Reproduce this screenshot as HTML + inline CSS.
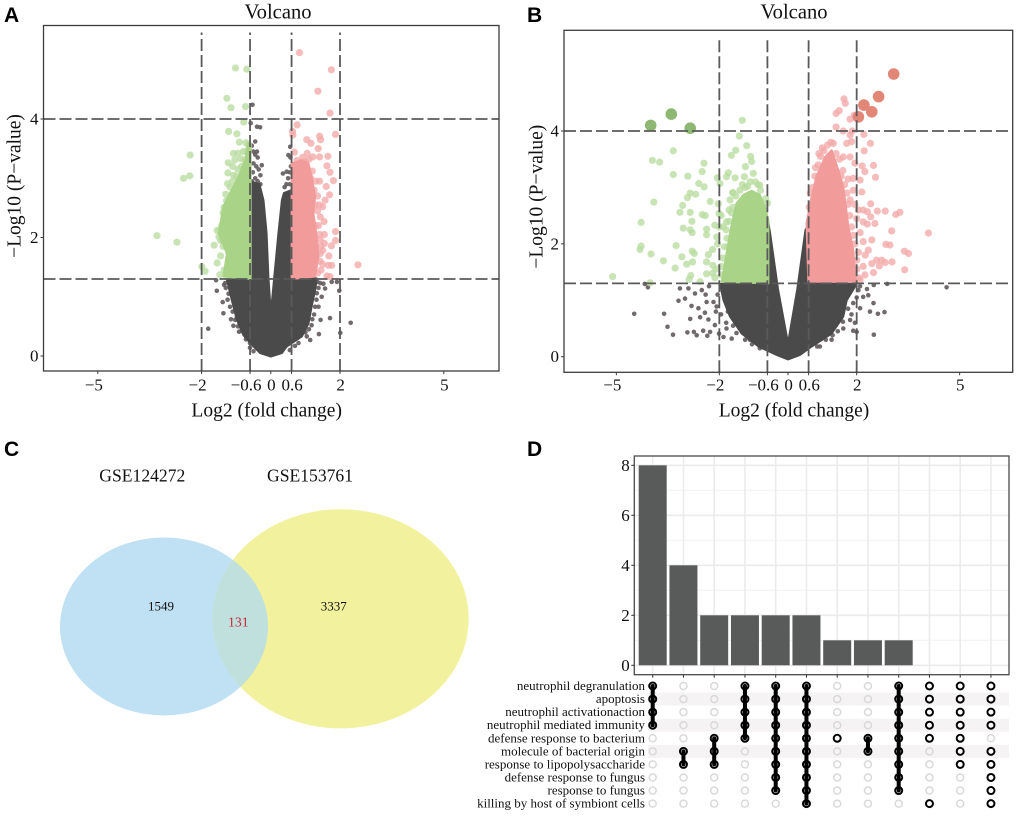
<!DOCTYPE html>
<html lang="en">
<head>
<meta charset="utf-8">
<title>Volcano, Venn and UpSet figure</title>
<style>
html,body{margin:0;padding:0;background:#fff}
svg{display:block}
text{font-family:"Liberation Serif",serif;fill:#111}
.panel-letter{font-family:"Liberation Sans",sans-serif;font-weight:bold;font-size:21px;fill:#000}
</style>
</head>
<body>
<svg id="fig" width="1020" height="818" viewBox="0 0 1020 818" xmlns="http://www.w3.org/2000/svg">
  <rect width="1020" height="818" fill="#fff"/>
  <text class="panel-letter" x="4" y="22">A</text>
  <text class="panel-letter" x="527" y="22">B</text>
  <text class="panel-letter" x="4" y="456">C</text>
  <text class="panel-letter" x="527" y="456">D</text>

  <g id="panelA"></g>
  <g id="panelB"></g>

  <g id="panelC">
    <text x="142.3" y="481.7" font-size="17.6" text-anchor="middle">GSE124272</text>
    <text x="310" y="481.7" font-size="17.6" text-anchor="middle">GSE153761</text>
    <ellipse cx="164" cy="626.5" rx="104" ry="89" fill="#bfe1f3"/>
    <ellipse cx="340.7" cy="618.8" rx="128" ry="109.5" fill="#f2f29e"/>
    <clipPath id="vennClip"><ellipse cx="164" cy="626.5" rx="104" ry="89"/></clipPath>
    <ellipse cx="340.7" cy="618.8" rx="128" ry="109.5" fill="#bfe0dc" clip-path="url(#vennClip)"/>
    <text x="161" y="610.3" font-size="13" text-anchor="middle">1549</text>
    <text x="238.3" y="626.7" font-size="13.8" text-anchor="middle" style="fill:#c8283c">131</text>
    <text x="333.7" y="610.3" font-size="13" text-anchor="middle">3337</text>
  </g>

  <g id="panelD"></g>
</svg>

<script>
/* ---------- shared volcano axes ---------- */
var xTickValues = [-5, -2, -0.6, 0, 0.6, 2, 5];
var yTickValues = [0, 2, 4];
var xThresholds = [-2, -0.6, 0.6, 2];
var yThresholds = [1.3, 4];

/* ---------- panel A data (log2 FC, -log10 P) ---------- */
var aGrayCloud = [[-0.6,2.95],[-0.33,2.9],[-0.21,2.63],[-0.12,2.07],[-0.07,1.34],[0,0.72],[0.1,1.34],[0.22,2.07],[0.32,2.63],[0.38,2.75],[0.6,2.8],[0.6,1.3],[1.33,1.31],[1.28,1.11],[1.18,0.83],[1.09,0.55],[0.9,0.33],[0.46,0.16],[0.32,0.05],[0,-0.01],[-0.31,0.05],[-0.5,0.16],[-0.79,0.35],[-0.98,0.61],[-1.13,0.95],[-1.27,1.29],[-0.6,1.3]];
var aGreenCloud = [[-1.37,1.34],[-1.27,1.73],[-1.51,2.07],[-1.37,2.52],[-1.18,2.75],[-0.93,3.03],[-0.74,3.31],[-0.65,3.59],[-0.58,3.59],[-0.58,1.3]];
var aPinkCloud = [[0.6,1.3],[0.6,3.25],[0.9,3.31],[1.09,3.25],[1.18,3.03],[1.28,2.69],[1.23,2.41],[1.33,2.01],[1.38,1.68],[1.28,1.34]];
var aGrayPoints = [[-0.53,4.24],[-0.58,3.93],[-0.4,3.87],[-0.31,3.86],[-0.45,3.62],[0.56,3.53],[0.51,3.39],[-0.4,3.45],[-0.26,3.22],[0.46,3.11],[0.35,3.08],[-1.56,1.1],[-1.39,0.91],[-1.37,0.72],[-1.81,0.46],[-0.92,0.41],[-1.08,0.51],[-0.98,0.66],[-0.6,0.14],[1.98,1.1],[1.71,0.64],[2.31,0.56],[2.01,0.39],[1.39,0.37],[1.44,0.61],[1.28,0.83],[1.33,1.06],[1.57,1.14],[1.76,1.25],[1.91,1.25],[1.43,1.23],[1.18,0.52],[1.04,0.33],[-1.32,1.23],[-1.58,1.28],[1.47,1.0],[1.38,0.83],[-1.18,0.83],[-1.03,0.61],[-0.79,0.44],[1.14,0.27],[-0.55,3.55],[-0.5,3.45],[-0.45,3.4],[-0.38,3.35],[-0.5,3.25],[-0.42,3.2],[-0.35,3.15],[-0.3,3.05],[-0.52,3.1],[-0.45,3.0],[-0.38,2.95],[-0.3,2.9],[-0.55,2.95],[0.55,3.1],[0.5,3.0],[0.45,2.9],[0.55,2.9],[0.4,2.85],[0.5,2.75],[0.58,3.2],[0.57,3.35],[-1.3,1.15],[-1.35,1.2],[-1.22,1.05],[-1.25,0.95],[-1.1,0.75],[-1.15,0.62],[-0.95,0.5],[-0.85,0.42],[-0.72,0.28],[-0.6,0.22],[-0.5,0.08],[1.35,1.25],[1.38,1.15],[1.32,0.95],[1.25,0.7],[1.2,0.62],[1.1,0.45],[1.0,0.4],[0.8,0.22],[0.7,0.17],[0.55,0.1],[1.52,1.22]];
var aGreenPoints = [[-1.02,4.86],[-0.69,4.84],[-1.27,4.35],[-1.15,4.19],[-0.73,4.21],[-0.78,3.95],[-1.22,3.79],[-0.98,3.75],[-0.91,3.61],[-0.65,3.57],[-2.33,3.39],[-2.34,3.04],[-2.52,3.0],[-3.29,2.03],[-2.71,1.92],[-1.64,1.87],[-1.99,1.51],[-1.9,1.43],[-1.55,1.57],[-1.45,1.69],[-1.47,1.37],[-1.08,3.42],[-1.23,3.26],[-1.04,3.31],[-0.75,3.31],[-1.24,3.09],[-1.08,3.05],[-1.25,2.91],[-0.99,3.03],[-1.3,2.73],[-1.0,2.77],[-1.16,2.63],[-1.35,2.51],[-1.35,2.35],[-1.47,2.13],[-1.5,2.01],[-1.28,1.85],[-1.42,2.2],[-1.38,2.42],[-1.28,2.62],[-1.18,2.85],[-1.1,2.95],[-0.95,3.15],[-0.85,3.2],[-0.9,2.9],[-1.05,2.6],[-1.2,2.4],[-1.3,2.1],[-1.4,1.95],[-1.2,1.65],[-1.25,1.5],[-1.35,1.45],[-1.38,1.85],[-1.1,3.2],[-0.8,3.45],[-0.7,3.45],[-0.72,3.6],[-0.95,3.42],[-0.87,3.33],[-0.64,3.5],[-1.45,1.95],[-1.55,2.12],[-1.17,2.05]];
var aPinkPoints = [[0.83,5.12],[1.75,4.83],[1.36,4.47],[1.71,4.1],[0.76,3.9],[0.63,3.79],[0.64,3.73],[1.87,3.74],[1.41,3.71],[1.44,3.65],[1.04,3.65],[1.16,3.59],[1.37,3.5],[0.68,3.44],[1.65,3.37],[1.41,3.36],[1.21,3.36],[0.92,3.35],[1.62,3.21],[1.71,3.1],[1.81,2.96],[1.2,3.12],[1.41,2.95],[1.6,2.86],[1.7,2.72],[1.57,2.63],[1.5,2.52],[1.43,2.35],[1.54,2.27],[1.87,2.1],[1.87,1.95],[1.75,1.86],[1.5,1.78],[1.68,1.69],[1.66,1.53],[1.76,1.53],[2.52,1.54],[1.62,1.35],[1.71,1.34],[1.43,1.73],[1.43,1.96],[0.75,3.3],[0.85,3.25],[1.0,3.28],[1.1,3.32],[1.0,3.1],[1.15,3.0],[1.3,2.95],[1.25,2.8],[1.35,2.7],[1.4,2.55],[1.35,2.45],[1.38,2.2],[1.42,2.05],[1.45,1.85],[1.42,1.6],[1.45,1.45],[1.35,1.4],[1.3,1.85],[1.3,2.2],[1.05,3.42],[0.72,3.1],[0.95,2.95],[1.28,2.55],[1.55,2.05],[1.55,1.9],[1.5,1.55]];

/* ---------- panel B data (log2 FC, -log10 P) ---------- */
var bGrayCloud = [[-1.98,1.29],[-0.58,1.3],[-0.58,2.4],[-0.52,2.19],[-0.29,1.2],[0,0.24],[0.27,1.2],[0.51,2.25],[0.56,2.3],[0.58,1.3],[2.0,1.29],[1.71,1.0],[1.61,0.71],[1.27,0.41],[0.69,0.18],[0.35,0.03],[0,-0.05],[-0.33,0.03],[-0.86,0.18],[-1.35,0.41],[-1.69,0.71],[-1.88,1.0]];
var bGreenCloud = [[-1.93,1.33],[-1.79,1.83],[-1.69,2.19],[-1.59,2.48],[-1.5,2.72],[-1.3,2.87],[-1.06,2.94],[-0.82,2.87],[-0.67,2.66],[-0.57,2.42],[-0.57,1.3]];
var bPinkCloud = [[0.59,1.33],[0.54,2.36],[0.69,2.84],[0.83,3.2],[1.08,3.54],[1.27,3.66],[1.47,3.3],[1.61,3.0],[1.69,2.65],[1.76,2.3],[1.9,1.9],[1.98,1.33]];
var bGrayPoints = [[-4.17,1.29],[-4.08,1.23],[-4.48,0.76],[-3.61,0.76],[-3.51,0.53],[-3.35,0.39],[-2.93,0.43],[-2.74,0.44],[-2.47,0.46],[-2.66,0.38],[-2.35,0.37],[-2.27,0.44],[-2.01,0.41],[-2.85,0.67],[-2.56,0.7],[-2.42,0.78],[-2.32,0.66],[-3.19,0.99],[-3.0,1.03],[-3.15,1.21],[-2.9,1.21],[-2.71,1.12],[-2.81,0.9],[-2.61,0.86],[-2.37,0.97],[-2.17,0.97],[-2.08,0.89],[-2.51,1.18],[-2.13,0.56],[-1.79,0.5],[-1.88,0.35],[-1.64,0.32],[4.62,1.23],[2.89,1.29],[2.5,1.27],[2.05,1.18],[2.34,1.09],[2.19,1.06],[2.49,0.95],[2.39,0.8],[2.62,0.76],[2.81,0.79],[2.5,0.39],[2.0,0.44],[1.9,0.46],[2.1,0.86],[1.81,0.65],[1.61,0.5],[1.27,0.3],[0.93,0.18],[-0.82,0.15],[-1.11,0.3],[-1.9,1.2],[-2.05,1.1],[-2.1,0.8],[-1.95,0.75],[-1.75,0.8],[-1.8,0.6],[-1.6,0.55],[-1.5,0.42],[-1.25,0.3],[-1.05,0.22],[1.85,1.2],[2.0,1.05],[1.9,0.95],[1.75,0.85],[1.85,0.75],[1.6,0.62],[1.45,0.45],[1.3,0.38],[1.1,0.3],[0.85,0.18],[1.95,0.6],[2.3,1.2],[2.1,1.25],[-2.3,1.25],[-2.4,1.1]];
var bGreenPoints = [[-1.33,4.19],[-1.42,3.91],[-1.2,3.74],[-3.34,3.65],[-1.52,3.66],[-1.65,3.57],[-1.09,3.55],[-3.95,3.48],[-3.74,3.45],[-1.06,3.46],[-2.45,3.43],[-1.24,3.37],[-2.5,3.28],[-3.34,3.23],[-2.92,3.2],[-1.74,3.26],[-1.79,3.19],[-1.54,3.17],[-2.06,3.17],[-1.01,3.25],[-1.27,3.19],[-1.98,3.07],[-2.6,3.07],[-2.44,3.01],[-0.82,3.04],[-2.85,2.9],[-2.69,2.88],[-1.61,2.91],[-2.93,2.82],[-3.91,2.74],[-2.27,2.75],[-1.69,2.78],[-3.07,2.68],[-2.03,2.71],[-3.15,2.56],[-2.85,2.56],[-2.5,2.52],[-2.41,2.5],[-2.01,2.54],[-4.28,2.38],[-2.8,2.4],[-1.79,2.39],[-2.13,2.33],[-3.05,2.28],[-2.37,2.26],[-2.85,2.25],[-2.79,2.2],[-1.88,2.3],[-2.08,2.12],[-2.37,2.16],[-3.26,1.97],[-4.28,1.96],[-4.31,1.9],[-1.74,1.95],[-2.79,1.87],[-3.99,1.82],[-2.73,1.83],[-2.32,1.81],[-3.09,1.77],[-3.63,1.7],[-2.78,1.68],[-2.37,1.68],[-2.95,1.64],[-2.19,1.62],[-3.29,1.57],[-2.2,1.48],[-5.11,1.42],[-2.83,1.44],[-2.37,1.47],[-4.02,1.31],[-2.56,1.33],[-2.13,1.4],[-2.88,1.37],[-1.95,1.45],[-1.95,1.6],[-1.9,1.75],[-1.85,1.95],[-1.78,2.1],[-1.8,2.25],[-1.72,2.4],[-1.65,2.55],[-1.6,2.65],[-1.52,2.85],[-1.4,2.95],[-1.25,3.0],[-1.1,3.1],[-0.95,3.1],[-0.88,3.05],[-0.8,2.95],[-0.65,2.8],[-0.6,2.72],[-1.18,3.02],[-1.33,3.05],[-2.05,2.0],[-2.2,1.9],[-2.1,1.55],[-2.0,2.3],[-1.95,2.5],[-1.72,2.6],[-1.6,2.9]];
var bPinkPoints = [[1.63,4.57],[1.67,4.49],[1.49,4.36],[1.4,4.31],[1.81,4.21],[1.93,4.28],[1.4,4.07],[1.61,4.0],[1.87,4.0],[1.81,3.93],[2.21,3.94],[1.71,3.78],[1.85,3.81],[1.32,3.78],[2.4,3.78],[2.22,3.65],[1.81,3.54],[1.61,3.54],[1.95,3.43],[2.16,3.38],[2.49,3.39],[2.24,3.28],[2.55,3.18],[1.9,3.16],[2.1,3.13],[2.15,2.92],[1.9,2.95],[1.81,2.78],[2.41,2.71],[2.19,2.6],[2.31,2.57],[2.6,2.58],[2.83,2.58],[3.26,2.56],[3.14,2.52],[2.41,2.48],[2.0,2.45],[2.19,2.39],[2.31,2.35],[2.53,2.36],[3.02,2.23],[4.09,2.19],[2.44,2.07],[2.19,2.04],[2.85,1.99],[2.97,1.98],[2.34,1.89],[3.39,1.87],[3.51,1.83],[2.58,1.71],[2.73,1.71],[3.03,1.68],[2.83,1.67],[2.44,1.65],[2.66,1.61],[2.49,1.49],[3.4,1.54],[2.24,1.45],[2.19,1.6],[2.0,1.71],[2.1,1.36],[0.62,2.65],[0.65,2.9],[0.72,3.0],[0.78,3.2],[0.8,3.35],[0.88,3.4],[0.95,3.55],[1.05,3.65],[1.15,3.75],[1.25,3.8],[1.4,3.6],[1.5,3.5],[1.55,3.2],[1.65,3.05],[1.72,2.9],[1.75,2.7],[1.8,2.5],[1.85,2.3],[1.9,2.15],[1.95,2.0],[2.05,1.85],[2.0,1.55],[2.05,1.4],[2.1,2.2],[2.25,1.8],[2.05,2.6],[1.95,2.7],[1.6,3.3],[1.75,3.15],[1.0,3.7],[0.9,3.6]];
var bGreenTopPoints = [[-4.0,4.1],[-3.4,4.3],[-2.85,4.05]];
var bRedTopPoints = [[3.08,5.01],[2.64,4.61],[2.21,4.46],[2.44,4.34],[2.05,4.25]];

/* ---------- panel D data ---------- */
var upsetSets = ["neutrophil degranulation","apoptosis","neutrophil activationaction","neutrophil mediated immunity","defense response to bacterium","molecule of bacterial origin","response to lipopolysaccharide","defense response to fungus","response to fungus","killing by host of symbiont cells"];
var upsetCounts = [8, 4, 2, 2, 2, 2, 1, 1, 1, 0, 0, 0];
var upsetMembers = [[0,1,2,3],[5,6],[4,5,6],[0,1,2,3,4],[0,1,2,3,4,5,6,7,8],[0,1,2,3,4,5,6,7,8,9],[4],[4,5],[0,1,2,3,4,5,6,7,8],[0,1,2,3,4,9],[0,1,2,3,4,5,6],[0,1,2,3,5,6,7,8,9]];
var upsetLinked = [true,true,true,true,true,true,true,true,true,false,false,false];
var upsetYTicks = [0, 2, 4, 6, 8];
var upsetYMinor = [1, 3, 5, 7];
var upsetStripes = [1, 3, 5];

/* ---------- helpers ---------- */
var NS = "http://www.w3.org/2000/svg";
function mk(tag, parent, attrs) {
  var el = document.createElementNS(NS, tag);
  for (var k in attrs) el.setAttribute(k, attrs[k]);
  parent.appendChild(el);
  return el;
}
function fmtTick(v) {
  return v < 0 ? "\u2212" + Math.abs(v) : String(v);
}
function polyPoints(pts, sx, sy) {
  return pts.map(function (p) { return sx(p[0]).toFixed(1) + "," + sy(p[1]).toFixed(1); }).join(" ");
}
function drawCloud(g, pts, sx, sy, fill, name) {
  var el = mk("polygon", g, {points: polyPoints(pts, sx, sy), fill: fill, stroke: fill, "stroke-width": 2, "stroke-linejoin": "round"});
  
  
}
function drawDots(g, pts, sx, sy, r, fill, op, name) {
  pts.forEach(function (p) {
    var c = mk("circle", g, {cx: sx(p[0]).toFixed(1), cy: sy(p[1]).toFixed(1), r: r, fill: fill, opacity: op});
    
    
  });
}

function drawVolcano(g, box, sx, sy, layers, geo) {
  var clipId = g.id + "Clip";
  var cp = mk("clipPath", g, {id: clipId});
  mk("rect", cp, {x: box.l, y: box.t, width: box.r - box.l, height: box.b - box.t});
  var inner = mk("g", g, {"clip-path": "url(#" + clipId + ")"});
  drawDots(inner, layers.grayPoints, sx, sy, 2.3, "#625a5d", 0.9, "non-significant-point");
  drawCloud(inner, layers.grayCloud, sx, sy, "#4a4a4a", "non-significant-density");
  drawDots(inner, layers.greenPoints, sx, sy, 3.6, "#b9dc9f", 0.78, "down-regulated-point");
  drawDots(inner, layers.pinkPoints, sx, sy, 3.6, "#f4a9a9", 0.78, "up-regulated-point");
  drawCloud(inner, layers.greenCloud, sx, sy, "#a9d488", "down-regulated-density");
  drawCloud(inner, layers.pinkCloud, sx, sy, "#f29b9b", "up-regulated-density");
  if (layers.greenTop) drawDots(inner, layers.greenTop, sx, sy, 5.8, "#8cb873", 1, "top-down-regulated-point");
  if (layers.redTop) drawDots(inner, layers.redTop, sx, sy, 5.8, "#e28678", 1, "top-up-regulated-point");

  xThresholds.forEach(function (v) {
    var l = mk("line", inner, {x1: sx(v), x2: sx(v), y1: box.b, y2: box.t + 7, stroke: "#5a5a5a", "stroke-width": 1.8, "stroke-dasharray": "12 4"});
    
    
  });
  yThresholds.forEach(function (v) {
    var l = mk("line", inner, {x1: box.l, x2: box.r, y1: sy(v), y2: sy(v), stroke: "#5a5a5a", "stroke-width": 1.8, "stroke-dasharray": "12 4"});
    
    
  });

  var fr = mk("rect", g, {x: box.l, y: box.t, width: box.r - box.l, height: box.b - box.t, fill: "none", stroke: "#3c3c3c", "stroke-width": 1.3});
  
  

  xTickValues.forEach(function (v) {
    var t = mk("line", g, {x1: sx(v), x2: sx(v), y1: box.b, y2: box.b + 3, stroke: "#3c3c3c", "stroke-width": 1});
    
    
    var lab = mk("text", g, {x: sx(v) + (v < 0 ? -4 : 0.6), y: 390.7, "font-size": 17, "text-anchor": "middle"});
    lab.textContent = fmtTick(v);
    
    
  });
  yTickValues.forEach(function (v) {
    var t = mk("line", g, {x1: box.l - 3, x2: box.l, y1: sy(v), y2: sy(v), stroke: "#3c3c3c", "stroke-width": 1});
    
    
    var lab = mk("text", g, {x: box.l - 5, y: sy(v) + 5.5, "font-size": 17, "text-anchor": "end"});
    lab.textContent = fmtTick(v);
    
    
  });

  var title = mk("text", g, {x: geo.titleX, y: 18.7, "font-size": 20.6, "text-anchor": "middle"});
  title.textContent = "Volcano";
  
  

  var xt = mk("text", g, {x: geo.xTitleX, y: 416.7, "font-size": 19.5, "text-anchor": "middle"});
  xt.textContent = "Log2 (fold change)";
  
  

  var yt = mk("text", g, {x: 0, y: 0, "font-size": 19.5, "text-anchor": "middle", transform: "translate(" + geo.ytx + "," + geo.yty + ") rotate(-90)"});
  yt.textContent = "\u2212Log10 (P\u2212value)";
  
  
}

/* ---------- panel A ---------- */
function xA(v) { return 270.8 + 34.6 * v; }
function yA(v) { return 356 - 59.25 * v; }
drawVolcano(document.getElementById("panelA"), {l: 43.5, r: 499, t: 25.5, b: 371}, xA, yA, {
  grayCloud: aGrayCloud, greenCloud: aGreenCloud, pinkCloud: aPinkCloud,
  grayPoints: aGrayPoints, greenPoints: aGreenPoints, pinkPoints: aPinkPoints
}, {titleX: 278, xTitleX: 266.7, ytx: 20.7, yty: 186});

/* ---------- panel B ---------- */
function xB(v) { return 788 + 34.33 * v; }
function yB(v) { return 356.7 - 56.42 * v; }
drawVolcano(document.getElementById("panelB"), {l: 564, r: 1012.7, t: 30.3, b: 372.3}, xB, yB, {
  grayCloud: bGrayCloud, greenCloud: bGreenCloud, pinkCloud: bPinkCloud,
  grayPoints: bGrayPoints, greenPoints: bGreenPoints, pinkPoints: bPinkPoints,
  greenTop: bGreenTopPoints, redTop: bRedTopPoints
}, {titleX: 794, xTitleX: 794, ytx: 542.3, yty: 196.7});

/* ---------- panel D ---------- */
(function () {
  var g = document.getElementById("panelD");
  var L = 634.3, R = 1009, T = 456, B = 674.7;
  function cx(i) { return 652.7 + 30.75 * i; }
  function by(v) { return 665.3 - 25 * v; }
  function ry(i) { return 686 + 13.07 * i; }

  upsetYMinor.forEach(function (v) {
    var l = mk("line", g, {x1: L, x2: R, y1: by(v), y2: by(v), stroke: "#f1f1f1", "stroke-width": 1});
    
    
  });
  upsetYTicks.forEach(function (v) {
    var l = mk("line", g, {x1: L, x2: R, y1: by(v), y2: by(v), stroke: "#ebebeb", "stroke-width": 1.6});
    
    
  });
  upsetCounts.forEach(function (c, i) {
    var l = mk("line", g, {x1: cx(i), x2: cx(i), y1: T, y2: B, stroke: "#ebebeb", "stroke-width": 1.6});
    
    
  });
  upsetCounts.forEach(function (c, i) {
    var r = mk("rect", g, {x: cx(i) - 14, y: by(c), width: 28, height: by(0) - by(c), fill: "#595b5b"});
    
    
  });
  var fr = mk("rect", g, {x: L, y: T, width: R - L, height: B - T, fill: "none", stroke: "#4a4a4a", "stroke-width": 1.3});
  
  
  upsetYTicks.forEach(function (v) {
    var t = mk("line", g, {x1: L - 3, x2: L, y1: by(v), y2: by(v), stroke: "#333", "stroke-width": 1});
    
    
    var lab = mk("text", g, {x: L - 4.5, y: by(v) + 5.5, "font-size": 17, "text-anchor": "end"});
    lab.textContent = String(v);
    
    
  });
  upsetCounts.forEach(function (c, i) {
    var t = mk("line", g, {x1: cx(i), x2: cx(i), y1: B, y2: B + 3, stroke: "#333", "stroke-width": 1});
    
    
  });

  upsetStripes.forEach(function (i) {
    var s = mk("rect", g, {x: 648, y: ry(i) - 6.5, width: R - 648, height: 13, fill: "#f5f3f3"});
    
    
  });
  upsetSets.forEach(function (name, r) {
    var lab = mk("text", g, {x: 645, y: ry(r) + 4, "font-size": 13, "text-anchor": "end"});
    lab.textContent = name;
    
    
  });
  upsetMembers.forEach(function (rows, c) {
    upsetSets.forEach(function (name, r) {
      var on = rows.indexOf(r) >= 0;
      var d = mk("circle", g, {cx: cx(c), cy: ry(r), r: 3.5, fill: on ? "#fff" : "none", stroke: on ? "#000" : "#d9d9d9", "stroke-width": on ? 2 : 1.5});
      
      
    });
    if (upsetLinked[c] && rows.length > 1) {
      var first = Math.min.apply(null, rows), last = Math.max.apply(null, rows);
      var l = mk("line", g, {x1: cx(c), x2: cx(c), y1: ry(first), y2: ry(last), stroke: "#000", "stroke-width": 4, "stroke-linecap": "round"});
      
      
    }
  });
})();
</script>
</body>
</html>
